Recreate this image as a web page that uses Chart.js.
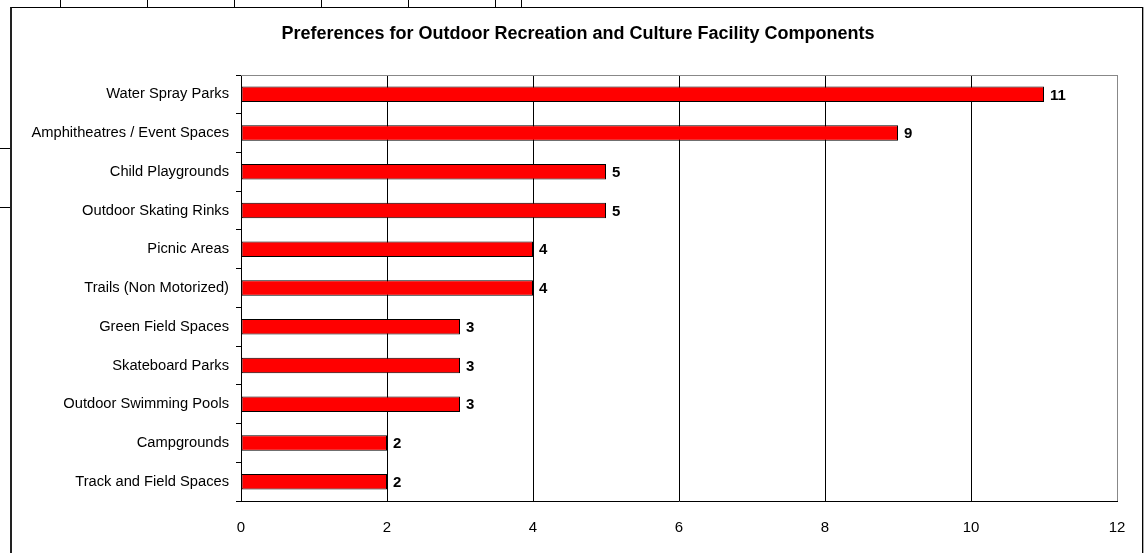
<!DOCTYPE html>
<html>
<head>
<meta charset="utf-8">
<script src="https://cdn.jsdelivr.net/npm/chart.js@4.4.0/dist/chart.umd.min.js"></script>
<style>
  html,body{margin:0;padding:0;background:#fff;overflow:hidden}
  body{width:1146px;height:553px;position:relative}
  /* sheet cell lines around the embedded chart */
  .vcell{position:absolute;top:0;width:1px;height:7px;background:#000}
  .hcell{position:absolute;left:0;width:11px;height:1px;background:#000}
  #frame{position:absolute;left:10px;top:7px;width:1130px;height:560px;border:1px solid #000;border-left:2px solid #222;box-shadow:1px 0 0 #aaa}
  #cv{position:absolute;left:0;top:0}
</style>
</head>
<body>
<div class="vcell" style="left:60px"></div>
<div class="vcell" style="left:147px"></div>
<div class="vcell" style="left:234px"></div>
<div class="vcell" style="left:321px"></div>
<div class="vcell" style="left:408px"></div>
<div class="vcell" style="left:495px"></div>
<div class="vcell" style="left:521px"></div>
<div class="hcell" style="top:148px"></div>
<div class="hcell" style="top:207px"></div>
<div id="frame"></div>
<canvas id="cv" width="1146" height="553"></canvas>
<script>
// ── data ──
var chartTitle='Preferences for Outdoor Recreation and Culture Facility Components';
var components=['Water Spray Parks','Amphitheatres / Event Spaces','Child Playgrounds','Outdoor Skating Rinks','Picnic Areas','Trails (Non Motorized)','Green Field Spaces','Skateboard Parks','Outdoor Swimming Pools','Campgrounds','Track and Field Spaces'];
var counts=[11,9,5,5,4,4,3,3,3,2,2];
var xMin=0, xMax=12, xStep=2;

var FONT='"Liberation Sans", Arial, sans-serif';

// title centred over the chart object, not the plot area
var titleText={
  id:'titleText',
  afterDraw:function(chart){
    var ctx=chart.ctx;
    ctx.save();
    ctx.font='bold 18px '+FONT;
    ctx.fillStyle='#000';
    ctx.textAlign='center';
    ctx.textBaseline='middle';
    ctx.fillText(chartTitle,578,34);
    ctx.restore();
  }
};

// value labels next to each bar
var barLabels={
  id:'barLabels',
  afterDatasetsDraw:function(chart){
    var ctx=chart.ctx, meta=chart.getDatasetMeta(0);
    ctx.save();
    ctx.font='bold 15px '+FONT;
    ctx.fillStyle='#000';
    ctx.textAlign='left';
    ctx.textBaseline='middle';
    meta.data.forEach(function(bar,i){
      ctx.fillText(String(counts[i]),bar.x+6,bar.y+1);
    });
    ctx.restore();
  }
};

// grey top edge of the plot area
var plotEdge={
  id:'plotEdge',
  beforeDatasetsDraw:function(chart){
    var a=chart.chartArea, ctx=chart.ctx;
    ctx.save();
    ctx.strokeStyle='#888';
    ctx.lineWidth=1;
    ctx.beginPath();
    ctx.moveTo(a.left,Math.round(a.top)+0.5);
    ctx.lineTo(a.right,Math.round(a.top)+0.5);
    ctx.stroke();
    ctx.restore();
  }
};

new Chart(document.getElementById('cv'),{
  type:'bar',
  data:{
    labels:components,
    datasets:[{
      data:counts,
      backgroundColor:'#FF0000',
      borderColor:'#000',
      borderWidth:1,
      borderSkipped:false,
      categoryPercentage:1,
      barPercentage:0.4
    }]
  },
  options:{
    indexAxis:'y',
    responsive:false,
    animation:false,
    devicePixelRatio:1,
    layout:{padding:{left:0,right:29,top:75,bottom:0}},
    plugins:{
      legend:{display:false},
      tooltip:{enabled:false},
      title:{display:false}
    },
    scales:{
      x:{
        min:xMin,max:xMax,
        ticks:{stepSize:xStep,color:'#000',padding:18,font:{family:FONT,size:15}},
        grid:{
          drawTicks:false,
          color:function(c){return c.tick&&c.tick.value===xMax?'#888':'#000'},
          lineWidth:1
        },
        border:{display:true,color:'#000',width:1},
        afterFit:function(s){s.height=52}
      },
      y:{
        ticks:{color:'#000',padding:7,font:{family:FONT,size:14.7}},
        grid:{drawOnChartArea:false,drawTicks:true,tickLength:5,tickColor:'#000',offset:true},
        border:{display:true,color:'#000',width:1},
        afterFit:function(s){s.width=241}
      }
    }
  },
  plugins:[plotEdge,barLabels,titleText]
});
</script>
</body>
</html>
